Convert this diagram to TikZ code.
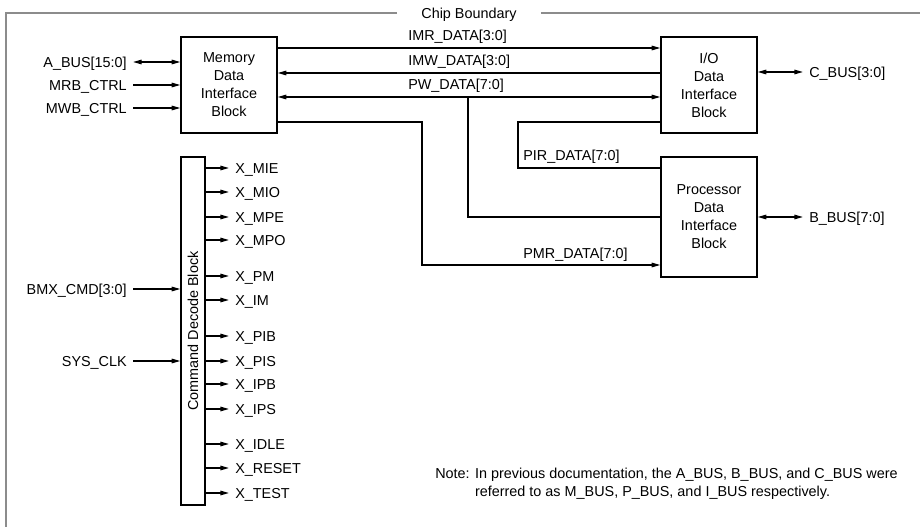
\documentclass[tikz,border=0pt]{standalone}
\usepackage{fontspec}
\setmainfont{Liberation Sans}
\usetikzlibrary{arrows.meta}
\tikzset{
	>={Triangle[length=6.5pt,width=3.4pt]},
	every node/.style={font=\fontsize{10.8}{13.5}\selectfont},
	wire/.style={line width=1pt},
	blk/.style={draw,line width=1pt,rectangle,align=center,inner sep=0pt,minimum width=72pt,minimum height=72pt},
	sig/.style={text height=7.7pt,text depth=0pt,inner xsep=4.5pt,inner ysep=0pt},
	busname/.style={anchor=base west,inner sep=0pt},
	boundary/.style={draw=black!45,line width=1.1pt}
}
\begin{document}
\begin{tikzpicture}[x=0.75pt,y=-0.75pt]
	\useasboundingbox (0,0) rectangle (920,527);
	\node[sig,inner xsep=18pt] (chip) at (469,13) {Chip Boundary};
	\draw[boundary] (chip.west) -- (6,13) -- (6,527);
	\draw[boundary] (chip.east) -- (920,13);

	\node[blk] (mem) at (229,85) {Memory\\Data\\Interface\\Block};
	\node[blk] (io) at (709,85) {I/O\\Data\\Interface\\Block};
	\node[blk,minimum height=90pt] (proc) at (709,217) {Processor\\Data\\Interface\\Block};
	\node[blk,minimum width=18pt,minimum height=261pt] (cmd) at (193,331) {};
	\node[rotate=90] (cmdtxt) at (cmd.center) {Command Decode Block};

	\node[sig,anchor=east] (abus) at (133,62) {A\_BUS[15:0]};
	\node[sig,anchor=east] (mrb) at (133,85) {MRB\_CTRL};
	\node[sig,anchor=east] (mwb) at (133,108) {MWB\_CTRL};
	\node[sig,anchor=east] (bmx) at (133,289) {BMX\_CMD[3:0]};
	\node[sig,anchor=east] (clk) at (133,361) {SYS\_CLK};
	\draw[wire,<->] (abus.east) -- (abus.east -| mem.west);
	\foreach \s in {mrb,mwb} \draw[wire,->] (\s.east) -- (\s.east -| mem.west);
	\foreach \s in {bmx,clk} \draw[wire,->] (\s.east) -- (\s.east -| cmd.west);

	\node[sig,anchor=west] (cbus) at (803,72) {C\_BUS[3:0]};
	\node[sig,anchor=west] (bbus) at (803,217) {B\_BUS[7:0]};
	\draw[wire,<->] (io.east |- cbus) -- (cbus.west);
	\draw[wire,<->] (proc.east) -- (bbus.west);

	\coordinate (rowimr) at (0,48);
	\coordinate (rowimw) at (0,73);
	\coordinate (rowpw) at (0,97);
	\coordinate (rowlow) at (0,122);
	\coordinate (pwtap) at (468,97);
	\coordinate (pirbend) at (518,168);
	\coordinate (pmrbend) at (422,265);
	\draw[wire,->] (mem.east |- rowimr) -- (io.west |- rowimr);
	\draw[wire,<-] (mem.east |- rowimw) -- (io.west |- rowimw);
	\draw[wire,<->] (mem.east |- rowpw) -- (io.west |- rowpw);
	\draw[wire] (pwtap) |- (proc.west);
	\draw[wire] (io.west |- rowlow) -| (pirbend) -- (proc.west |- pirbend);
	\draw[wire,->] (mem.east |- rowlow) -| (pmrbend) -- (proc.west |- pmrbend);

	\node[busname] (imrl) at (408,41) {IMR\_DATA[3:0]};
	\node[busname] (imwl) at (408,66) {IMW\_DATA[3:0]};
	\node[busname] (pwl) at (408,90) {PW\_DATA[7:0]};
	\node[busname] (pirl) at (523,161) {PIR\_DATA[7:0]};
	\node[busname] (pmrl) at (523,258) {PMR\_DATA[7:0]};

	\foreach \n/\y in {MIE/168,MIO/192,MPE/217,MPO/240,PM/276,IM/300,PIB/336,PIS/361,IPB/384,IPS/409,IDLE/444,RESET/468,TEST/493}{
		\node[sig,anchor=west] (x\n) at (229,\y) {X\_\n};
		\draw[wire,->] (cmd.east |- x\n) -- (x\n.west);
	}

	\node[busname] (note) at (435,478) {\begin{tabular}[t]{@{}l@{\hspace{4pt}}l@{}}Note: & In previous documentation, the A\_BUS, B\_BUS, and C\_BUS were\\ & referred to as M\_BUS, P\_BUS, and I\_BUS respectively.\end{tabular}};
\end{tikzpicture}
\end{document}
